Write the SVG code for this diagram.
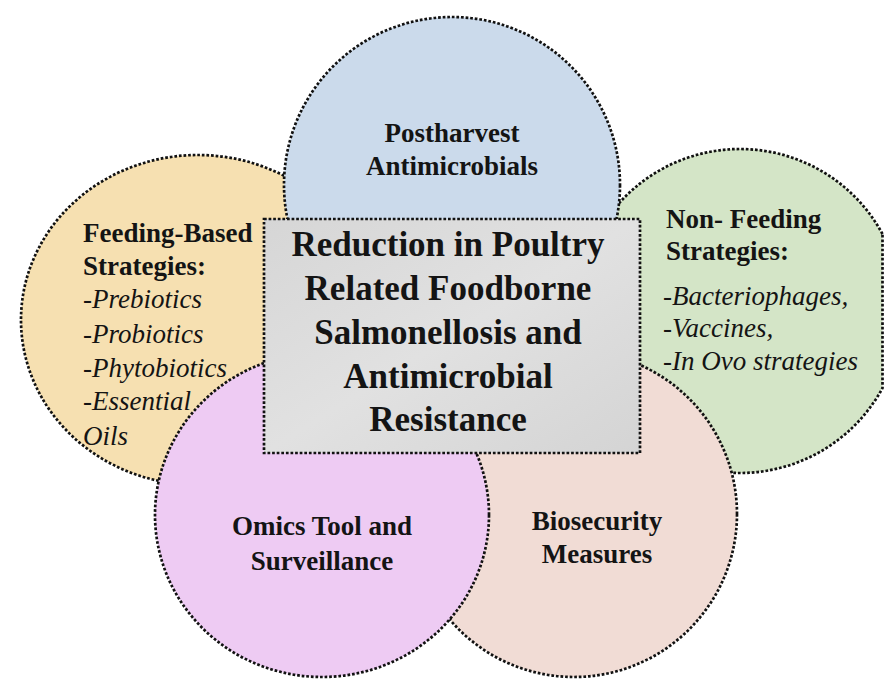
<svg xmlns="http://www.w3.org/2000/svg" width="884" height="679" viewBox="0 0 884 679">
<style>
.dot{stroke:#111;stroke-width:2.7;stroke-dasharray:2.7 1.9}
.t{font-family:"Liberation Serif","Times New Roman",serif;fill:#141414}
.b{font-weight:bold;font-size:27px}
.i{font-style:italic;font-size:27px}
.m{font-weight:bold;font-size:35px}
</style>
<defs>
<linearGradient id="gbox" x1="0" y1="0" x2="1" y2="1">
<stop offset="0" stop-color="#d6d6d6"/>
<stop offset="0.5" stop-color="#e1e1e1"/>
<stop offset="1" stop-color="#d4d4d4"/>
</linearGradient>
</defs>
<rect width="884" height="679" fill="#ffffff"/>
<g id="feeding">
<ellipse class="dot" cx="198" cy="320" rx="177" ry="165" fill="#f6e0b1"/>
<text class="t b" x="83" y="242">Feeding-Based</text>
<text class="t b" x="83" y="275">Strategies:</text>
<text class="t i" x="83" y="308">-Prebiotics</text>
<text class="t i" x="83" y="343">-Probiotics</text>
<text class="t i" x="83" y="377">-Phytobiotics</text>
<text class="t i" x="83" y="410">-Essential</text>
<text class="t i" x="83" y="445">Oils</text>
</g>
<g id="nonfeeding">
<path class="dot" d="M882.5 234 A162 162 0 1 0 882.5 388 Z" fill="#d4e5c7"/>
<text class="t b" x="666" y="228">Non- Feeding</text>
<text class="t b" x="666" y="260">Strategies:</text>
<text class="t i" x="663" y="305">-Bacteriophages,</text>
<text class="t i" x="663" y="337">-Vaccines,</text>
<text class="t i" x="663" y="370">-In Ovo strategies</text>
</g>
<g id="postharvest">
<circle class="dot" cx="452" cy="185" r="168" fill="#cbdaeb"/>
<text class="t b" x="452" y="142" text-anchor="middle">Postharvest</text>
<text class="t b" x="452" y="175" text-anchor="middle">Antimicrobials</text>
</g>
<g id="biosecurity">
<circle class="dot" cx="574" cy="514" r="163" fill="#f1dcd5"/>
<text class="t b" x="597" y="530" text-anchor="middle">Biosecurity</text>
<text class="t b" x="597" y="563" text-anchor="middle">Measures</text>
</g>
<g id="omics">
<ellipse class="dot" cx="322" cy="515" rx="167" ry="162" fill="#eecbf3"/>
<text class="t b" x="322" y="535" text-anchor="middle">Omics Tool and</text>
<text class="t b" x="322" y="570" text-anchor="middle">Surveillance</text>
</g>
<g id="center">
<rect class="dot" x="264" y="219" width="376" height="234" fill="url(#gbox)"/>
<text class="t m" x="448" y="256" text-anchor="middle">Reduction in Poultry</text>
<text class="t m" x="448" y="300" text-anchor="middle">Related Foodborne</text>
<text class="t m" x="448" y="344" text-anchor="middle">Salmonellosis and</text>
<text class="t m" x="448" y="388" text-anchor="middle">Antimicrobial</text>
<text class="t m" x="448" y="431" text-anchor="middle">Resistance</text>
</g>
<g id="connectors"></g>
</svg>
